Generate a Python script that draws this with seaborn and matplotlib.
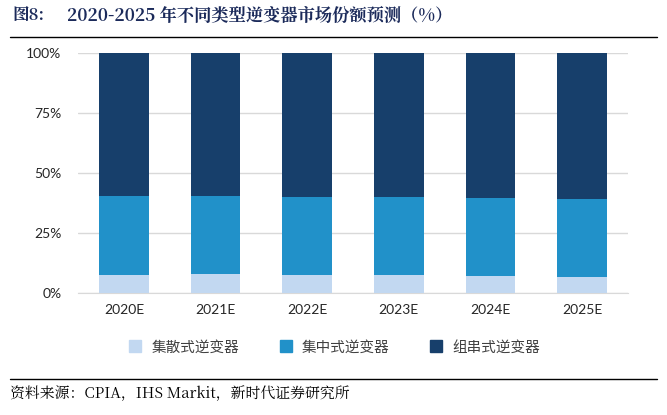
import numpy as np
import seaborn as sns
import matplotlib.pyplot as plt
from matplotlib.lines import Line2D

years = ["2020E", "2021E", "2022E", "2023E", "2024E", "2025E"]
distributed = [7.6, 7.9, 7.6, 7.6, 7.2, 6.8]   # 集散式逆变器
central = [32.9, 32.6, 32.7, 32.5, 32.5, 32.5]  # 集中式逆变器
string = [59.5, 59.5, 59.7, 59.9, 60.3, 60.7]   # 组串式逆变器

names = ["集散式逆变器", "集中式逆变器", "组串式逆变器"]
colors = ["#C2D8F1", "#2191C9", "#173F6B"]
serif = ["Noto Serif CJK SC", "Noto Sans CJK SC", "DejaVu Sans"]

sns.set_style("white")
plt.rcParams["font.family"] = ["Noto Sans CJK SC", "DejaVu Sans"]

fig = plt.figure(figsize=(6.67, 4.15), dpi=100)
ax = fig.add_axes([0.117, 0.2933, 0.8245, 0.5783])

bottom = np.zeros(len(years))
for vals, name, c in zip([distributed, central, string], names, colors):
    sns.barplot(x=years, y=vals, bottom=bottom, color=c, width=0.54,
                saturation=1, linewidth=0, ax=ax, zorder=3)
    bottom = bottom + np.array(vals)

ax.set_ylim(0, 100)
ax.set_xlim(-0.5, 5.5)
ax.set_yticks([0, 25, 50, 75, 100])
ax.set_yticklabels([f"{t}%" for t in [0, 25, 50, 75, 100]])
ax.yaxis.grid(True, color="#D9D9D9", linewidth=1, zorder=0)
ax.set_axisbelow(True)
for s in ["top", "right", "left"]:
    ax.spines[s].set_visible(False)
ax.spines["bottom"].set_color("#D9D9D9")
ax.tick_params(axis="both", length=0, labelsize=10, colors="#262626", pad=8)
ax.tick_params(axis="y", pad=12)
for lab in ax.get_xticklabels() + ax.get_yticklabels():
    lab.set_family(["Lato", "DejaVu Sans"])

handles = [Line2D([], [], marker="s", linestyle="", markersize=9,
                  markerfacecolor=c, markeredgecolor=c) for c in colors]
fig.legend(handles, names, loc="center", bbox_to_anchor=(0.495, 0.163),
           ncol=3, frameon=False, fontsize=10.5, handletextpad=0.1,
           columnspacing=2.2, labelcolor="#404040")

fig.text(0.018, 0.963, "图8:", fontsize=12, fontweight="bold", color="#1B2A5A",
         va="center", family=serif)
fig.text(0.1, 0.963, "2020-2025 年不同类型逆变器市场份额预测（%）", fontsize=12.4,
         fontweight="bold", color="#1B2A5A", va="center", family=serif)
fig.add_artist(Line2D([0.015, 0.985], [0.91, 0.91], color="black", linewidth=1))
fig.add_artist(Line2D([0.015, 0.985], [0.087, 0.087], color="black", linewidth=1))
fig.text(0.015, 0.05, "资料来源：CPIA，IHS Markit，新时代证券研究所", fontsize=10.7,
         color="black", va="center", family=serif)

fig.savefig("out.png", dpi=100)
